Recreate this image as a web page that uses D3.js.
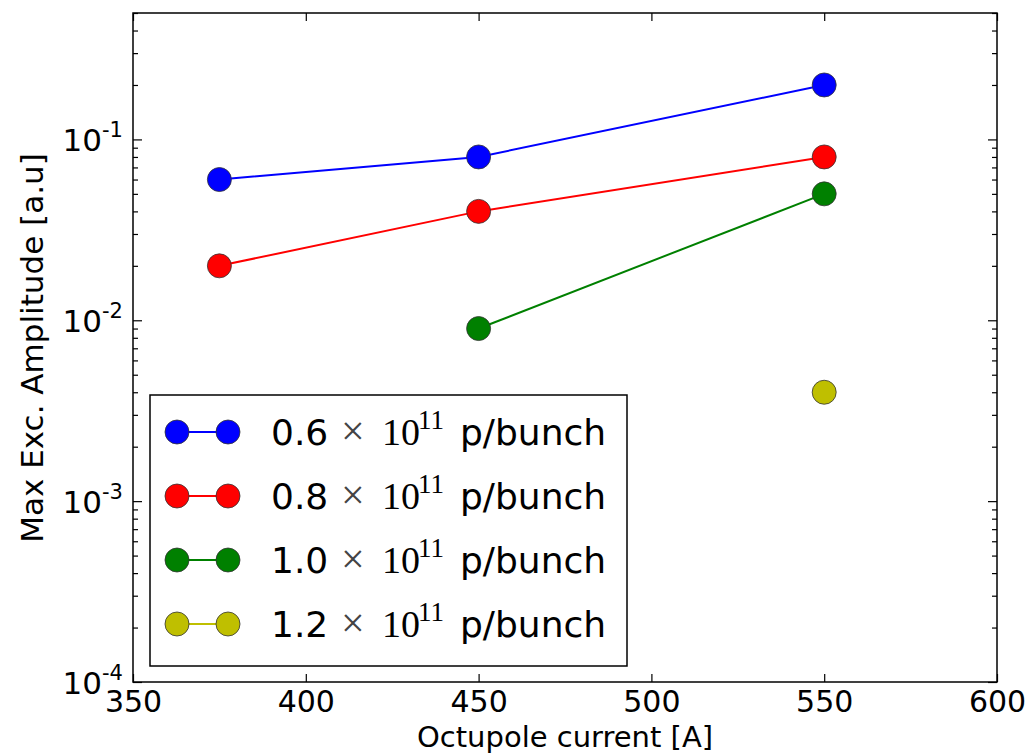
<!DOCTYPE html>
<html>
<head>
<meta charset="utf-8">
<script src="https://cdn.jsdelivr.net/npm/d3@7"></script>
<style>
  body { margin: 0; background: #fff; }
  text { font-family: "DejaVu Sans", sans-serif; fill: #000; }
</style>
</head>
<body>
<div id="chart"></div>
<script>
// data
const currents = [375, 450, 550];
const series = [
  { label: '0.6', color: '#0000ff', values: [0.06, 0.08, 0.2] },
  { label: '0.8', color: '#ff0000', values: [0.02, 0.04, 0.08] },
  { label: '1.0', color: '#008000', values: [null, 0.009, 0.05] },
  { label: '1.2', color: '#bfbf00', values: [null, null, 0.004] }
];
const xTicks = [350, 400, 450, 500, 550, 600];
const yExponents = [-4, -3, -2, -1];

const width = 1036,
  height = 754;
const margin = { top: 13, right: 39, bottom: 72, left: 133 };
const w = width - margin.left - margin.right,
  h = height - margin.top - margin.bottom;

const svg = d3
  .select('#chart')
  .append('svg')
  .attr('width', width)
  .attr('height', height);

const g = svg
  .append('g')
  .attr('transform', 'translate(' + margin.left + ',' + margin.top + ')');

let x = d3.scaleLinear().domain([350, 600]).range([0, w]);
let y = d3.scaleLog().domain([1e-4, 0.5]).range([h, 0]);

// minor ticks for the log axis
const minor = [];
yExponents.concat([0]).forEach((e) => {
  for (let k = 2; k <= 9; k++) {
    const v = k * Math.pow(10, e - 1);
    if (v > 1e-4 && v <= 0.5) minor.push(v);
  }
});
const majors = yExponents.map((e) => Math.pow(10, e));

// x axes (bottom with labels, top ticks only)
g.append('g')
  .attr('transform', `translate(0,${h})`)
  .call(d3.axisBottom(x).tickValues(xTicks).tickSize(-8).tickPadding(9).tickFormat(d3.format('d')))
  .call((a) => a.select('.domain').remove())
  .call((a) => a.selectAll('text').attr('font-size', 30).attr('font-family', 'DejaVu Sans'));

g.append('g')
  .call(d3.axisTop(x).tickValues(xTicks).tickSize(-8).tickFormat(''))
  .call((a) => a.select('.domain').remove());

// y axes
const yAxisLeft = (a, size, vals) =>
  a.call(d3.axisLeft(y).tickValues(vals).tickSize(-size).tickFormat(''))
    .call((s) => s.select('.domain').remove());
const yAxisRight = (a, size, vals) =>
  a.attr('transform', `translate(${w},0)`)
    .call(d3.axisRight(y).tickValues(vals).tickSize(-size).tickFormat(''))
    .call((s) => s.select('.domain').remove());

g.append('g').call(yAxisLeft, 9, majors);
g.append('g').call(yAxisLeft, 5, minor);
g.append('g').call(yAxisRight, 9, majors);
g.append('g').call(yAxisRight, 5, minor);

g.selectAll('.tick line').attr('stroke', '#000').attr('stroke-width', 1.2);

// y tick labels 10^n
const yl = g.append('g').selectAll('text').data(yExponents).enter()
  .append('text')
  .attr('text-anchor', 'end')
  .attr('x', -10)
  .attr('y', (d) => y(Math.pow(10, d)) + 12)
  .attr('font-size', 31);
yl.append('tspan').text('10');
yl.append('tspan').attr('font-size', 21).attr('dy', -14).text((d) => '-' + Math.abs(d));

// frame
g.append('rect')
  .attr('width', w)
  .attr('height', h)
  .attr('fill', 'none')
  .attr('stroke', '#000')
  .attr('stroke-width', 1.5);

// lines + markers
let line = d3
  .line()
  .defined((d) => d.v != null)
  .x((d) => x(d.c))
  .y((d) => y(d.v));

series.forEach((s) => {
  const pts = currents.map((c, i) => ({ c: c, v: s.values[i] }));
  g.append('path')
    .datum(pts)
    .attr('fill', 'none')
    .attr('stroke', s.color)
    .attr('stroke-width', 2)
    .attr('d', line);
  g.append('g').selectAll('circle')
    .data(pts.filter((d) => d.v != null))
    .enter()
    .append('circle')
    .attr('cx', (d) => x(d.c))
    .attr('cy', (d) => y(d.v))
    .attr('r', 12)
    .attr('fill', s.color)
    .attr('stroke', '#333')
    .attr('stroke-opacity', 0.8)
    .attr('stroke-width', 1);
});

// axis labels
svg.append('text')
  .attr('x', margin.left + w / 2)
  .attr('y', 747)
  .attr('text-anchor', 'middle')
  .attr('font-size', 29)
  .text('Octupole current [A]');

svg.append('text')
  .attr('transform', 'translate(43,348) rotate(-90)')
  .attr('text-anchor', 'middle')
  .attr('font-size', 31)
  .text('Max Exc. Amplitude [a.u]');

// legend
const legend = svg.append('g').attr('transform', 'translate(150,395)');
legend.append('rect')
  .attr('width', 477)
  .attr('height', 271)
  .attr('fill', '#fff')
  .attr('stroke', '#000')
  .attr('stroke-width', 1.5);

series.forEach((s, i) => {
  const row = legend.append('g').attr('transform', `translate(0,${37 + i * 64})`);
  row.append('line')
    .attr('x1', 27).attr('x2', 78)
    .attr('stroke', s.color).attr('stroke-width', 2);
  [27, 78].forEach((cx) =>
    row.append('circle')
      .attr('cx', cx).attr('r', 12)
      .attr('fill', s.color)
      .attr('stroke', '#333').attr('stroke-opacity', 0.8).attr('stroke-width', 1)
  );
  const t = row.append('text').attr('y', 13).attr('font-size', 36);
  t.append('tspan').attr('x', 121).text(s.label);
  t.append('tspan').attr('x', 191).attr('font-family', 'Liberation Serif').attr('font-size', 42).attr('fill', '#444').text('\u00d7');
  t.append('tspan').attr('x', 232).attr('font-family', 'Liberation Serif').attr('font-size', 38).text('10');
  t.append('tspan').attr('x', 268).attr('font-family', 'Liberation Serif').attr('font-size', 27).attr('dy', -16).text('11');
  t.append('tspan').attr('x', 310).attr('dy', 16).text('p/bunch');
});
</script>
</body>
</html>
